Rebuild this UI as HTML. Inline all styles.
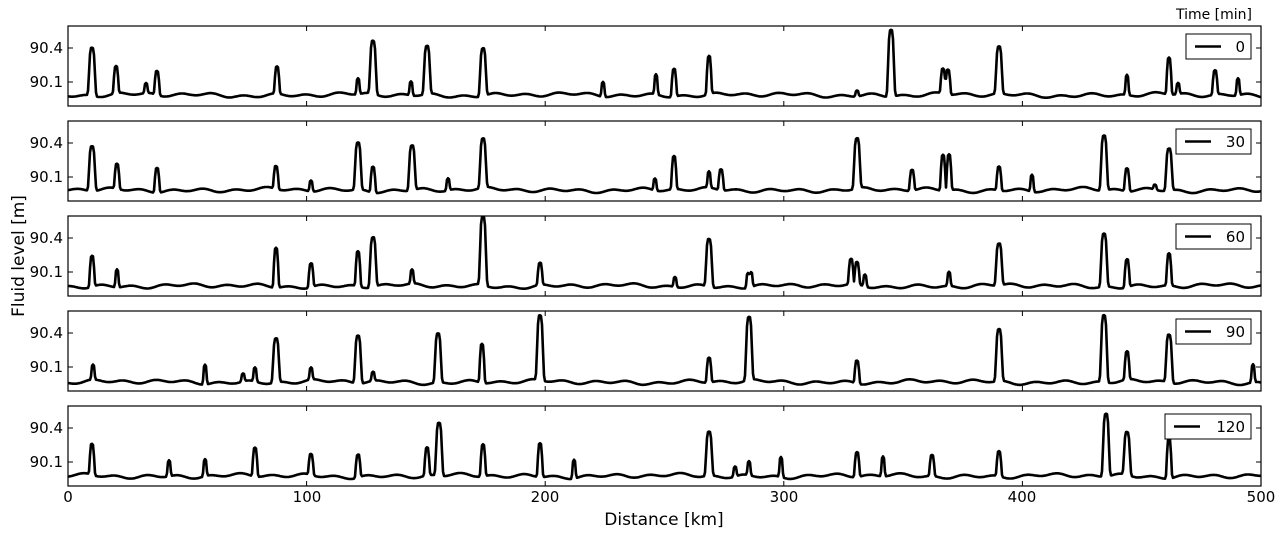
<!DOCTYPE html>
<html><head><meta charset="utf-8"><style>
body{margin:0;background:#fff}
svg{display:block;font-family:"DejaVu Sans","Liberation Sans",sans-serif}
</style></head><body>
<svg id="s" width="1283" height="537" xmlns="http://www.w3.org/2000/svg">
<text x="1252" y="19" font-size="14" text-anchor="end">Time [min]</text>
<text transform="translate(24,256) rotate(-90)" font-size="17" text-anchor="middle">Fluid level [m]</text>
<text x="664" y="525" font-size="17" text-anchor="middle">Distance [km]</text>
<g font-size="15" text-anchor="middle">
<text x="68" y="502">0</text><text x="307" y="502">100</text><text x="545" y="502">200</text><text x="784" y="502">300</text><text x="1022" y="502">400</text><text x="1261" y="502">500</text>
</g>
<g id="g"></g>
</svg>
<script>
var P=[
{t:26,b:95,lab:"0",lw:65,pk:[[92,47],[116,68],[146,85],[157,71],[277,68],[358,79],[373,42],[411,81],[427,47],[483,47],[603,80],[656,75],[674,67],[709,57],[857,89],[891,28],[943,70],[948,70],[999,48],[1127,75],[1169,58],[1178,84],[1215,71],[1238,78]]},
{t:121,b:190,lab:"30",lw:75,pk:[[92,145],[117,165],[157,165],[276,167],[311,179],[358,143],[373,164],[412,145],[448,178],[483,141],[655,178],[674,157],[709,174],[721,169],[857,140],[912,169],[943,154],[949,154],[999,166],[1032,173],[1104,135],[1127,167],[1155,185],[1169,148]]},
{t:216,b:286,lab:"60",lw:75,pk:[[92,255],[117,268],[276,246],[311,262],[358,251],[373,236],[412,272],[483,216],[540,264],[675,276],[709,238],[748,271],[751,271],[851,261],[857,264],[865,274],[949,272],[999,244],[1104,233],[1127,258],[1169,254]]},
{t:311,b:382,lab:"90",lw:75,pk:[[93,367],[205,362],[243,374],[255,368],[276,338],[311,370],[358,334],[373,373],[438,333],[482,343],[540,317],[709,357],[749,319],[857,359],[999,330],[1104,315],[1127,354],[1169,334],[1253,364]]},
{t:406,b:476,lab:"120",lw:86,pk:[[92,445],[169,460],[205,459],[255,447],[311,455],[358,453],[427,448],[439,423],[483,444],[540,442],[574,457],[709,432],[735,466],[749,462],[781,456],[857,451],[883,456],[932,455],[999,451],[1106,413],[1127,433],[1169,436]]}
];
var h="",L=68,R=1261;
P.forEach(function(p,i){
 var H=80,y04=p.t+22,y01=p.t+56;
 h+='<rect x="'+L+'" y="'+p.t+'" width="'+(R-L)+'" height="'+H+'" fill="none" stroke="#000" stroke-width="1.2"/>';
 [y04,y01].forEach(function(y,k){
  h+='<line x1="'+L+'" x2="'+(L+5)+'" y1="'+y+'" y2="'+y+'" stroke="#000"/><line x1="'+(R-5)+'" x2="'+R+'" y1="'+y+'" y2="'+y+'" stroke="#000"/>';
  h+='<text x="'+(L-5)+'" y="'+(y+5)+'" font-size="15" text-anchor="end">'+(k?"90.1":"90.4")+'</text>';
 });
 for(var k=1;k<5;k++){var x=L+k*(R-L)/5;h+='<line x1="'+x+'" x2="'+x+'" y1="'+(p.t+H)+'" y2="'+(p.t+H-5)+'" stroke="#000"/><line x1="'+x+'" x2="'+x+'" y1="'+p.t+'" y2="'+(p.t+5)+'" stroke="#000"/>';}
 var d="";
 for(var x=L;x<=R;x+=1){
  var y=p.b+1.3*Math.sin(x*0.2+i*1.7)+1.0*Math.sin(x*0.085+i*0.9)+0.8*Math.sin(x*0.031+i*2.3);
  var m=0;
  p.pk.forEach(function(q){var a=p.b-q[1];var s=a>40?3.2:(a>20?2.4:1.8);var v=a*Math.exp(-Math.pow((x-q[0])/s,4));if(v>m)m=v;});
  y-=m; if(y<p.t+1)y=p.t+1;
  d+=(x==L?"M":"L")+x+","+y.toFixed(1);
 }
 h+='<path d="'+d+'" fill="none" stroke="#000" stroke-width="2.6" stroke-linejoin="round"/>';
 var bx=1251-p.lw,by=p.t+8;
 h+='<rect x="'+bx+'" y="'+by+'" width="'+p.lw+'" height="25" fill="#fff" stroke="#000"/>';
 h+='<line x1="'+(bx+9)+'" x2="'+(bx+35)+'" y1="'+(by+12.5)+'" y2="'+(by+12.5)+'" stroke="#000" stroke-width="2.6"/>';
 h+='<text x="'+(1245)+'" y="'+(by+18)+'" font-size="15" text-anchor="end">'+p.lab+'</text>';
});
document.getElementById("g").innerHTML=h;
</script>
</body></html>
